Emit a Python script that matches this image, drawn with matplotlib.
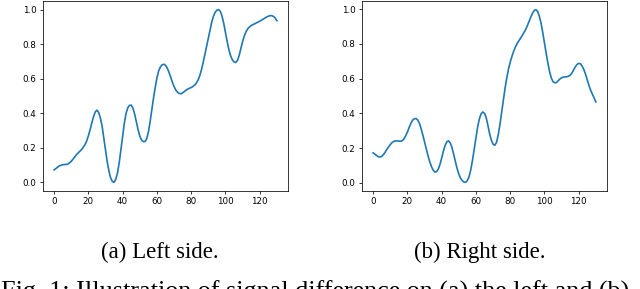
import numpy as np
import matplotlib
matplotlib.use("Agg")
from matplotlib import pyplot as plt

# sample index and normalised signal
x = np.arange(0, 131)

left_signal = [
    0.072, 0.080, 0.088, 0.095, 0.099, 0.102, 0.103, 0.104, 0.106, 0.113,
    0.122, 0.135, 0.148, 0.160, 0.170, 0.180, 0.190, 0.203, 0.218, 0.240,
    0.270, 0.305, 0.345, 0.380, 0.408, 0.418, 0.405, 0.372, 0.325, 0.258,
    0.187, 0.118, 0.065, 0.025, 0.005, 0.000, 0.018, 0.055, 0.115, 0.190,
    0.268, 0.345, 0.400, 0.432, 0.446, 0.447, 0.430, 0.395, 0.350, 0.305,
    0.268, 0.245, 0.236, 0.236, 0.252, 0.290, 0.350, 0.420, 0.488, 0.550,
    0.605, 0.645, 0.668, 0.680, 0.684, 0.678, 0.662, 0.638, 0.610, 0.580,
    0.555, 0.535, 0.522, 0.515, 0.513, 0.518, 0.526, 0.534, 0.540, 0.545,
    0.549, 0.555, 0.563, 0.575, 0.592, 0.618, 0.652, 0.695, 0.742, 0.790,
    0.838, 0.885, 0.928, 0.962, 0.985, 0.997, 1.000, 0.990, 0.962, 0.920,
    0.868, 0.815, 0.768, 0.733, 0.710, 0.697, 0.694, 0.706, 0.735, 0.775,
    0.815, 0.848, 0.872, 0.889, 0.900, 0.908, 0.913, 0.918, 0.923, 0.928,
    0.933, 0.939, 0.945, 0.951, 0.957, 0.962, 0.965, 0.965, 0.961, 0.952,
    0.936,
]

right_signal = [
    0.172, 0.165, 0.157, 0.150, 0.148, 0.152, 0.162, 0.176, 0.192, 0.206,
    0.220, 0.231, 0.238, 0.241, 0.241, 0.240, 0.239, 0.243, 0.253, 0.270,
    0.292, 0.318, 0.342, 0.360, 0.369, 0.370, 0.362, 0.343, 0.312, 0.275,
    0.235, 0.195, 0.157, 0.122, 0.094, 0.073, 0.062, 0.063, 0.078, 0.105,
    0.142, 0.182, 0.215, 0.236, 0.241, 0.230, 0.203, 0.165, 0.122, 0.082,
    0.050, 0.027, 0.012, 0.004, 0.002, 0.012, 0.035, 0.075, 0.130, 0.195,
    0.262, 0.322, 0.368, 0.397, 0.408, 0.400, 0.375, 0.330, 0.282, 0.245,
    0.222, 0.216, 0.232, 0.275, 0.335, 0.405, 0.475, 0.545, 0.605, 0.655,
    0.695, 0.728, 0.757, 0.782, 0.802, 0.818, 0.833, 0.848, 0.865, 0.883,
    0.905, 0.930, 0.955, 0.977, 0.993, 0.998, 0.988, 0.960, 0.920, 0.866,
    0.806, 0.746, 0.690, 0.640, 0.603, 0.583, 0.576, 0.578, 0.588, 0.598,
    0.605, 0.609, 0.610, 0.611, 0.614, 0.620, 0.632, 0.650, 0.668, 0.682,
    0.688, 0.686, 0.672, 0.652, 0.625, 0.592, 0.560, 0.532, 0.510, 0.488,
    0.466,
]

captions = ["(a) Left side.", "(b) Right side."]
fig_caption = "Fig. 1: Illustration of signal difference on (a) the left and (b)"

fig = plt.figure(figsize=(6.4, 2.89), dpi=100)

ax_l = fig.add_axes([43 / 640, 98 / 289, 245 / 640, 190 / 289])
ax_r = fig.add_axes([362 / 640, 98 / 289, 245 / 640, 190 / 289])

for ax, sig in zip([ax_l, ax_r], [left_signal, right_signal]):
    ax.plot(x, sig, color="#1f77b4", linewidth=1.2)
    ax.set_xticks([0, 20, 40, 60, 80, 100, 120])
    ax.set_yticks([0.0, 0.2, 0.4, 0.6, 0.8, 1.0])
    ax.tick_params(labelsize=6.3, length=2.3, width=0.55, pad=2.3)
    for sp in ax.spines.values():
        sp.set_linewidth(0.55)

serif = ["Liberation Serif", "DejaVu Serif"]
fig.text(160 / 640, 31 / 289, captions[0], ha="center", va="baseline",
         fontsize=16.5, family=serif)
fig.text(480 / 640, 31 / 289, captions[1], ha="center", va="baseline",
         fontsize=16.5, family=serif)
# caption of the whole figure is cut off by the bottom edge, as in the source
fig.text(1 / 640, -10 / 289, fig_caption, ha="left", va="baseline",
         fontsize=18.8, family=serif)

fig.savefig("out.png", dpi=100)
